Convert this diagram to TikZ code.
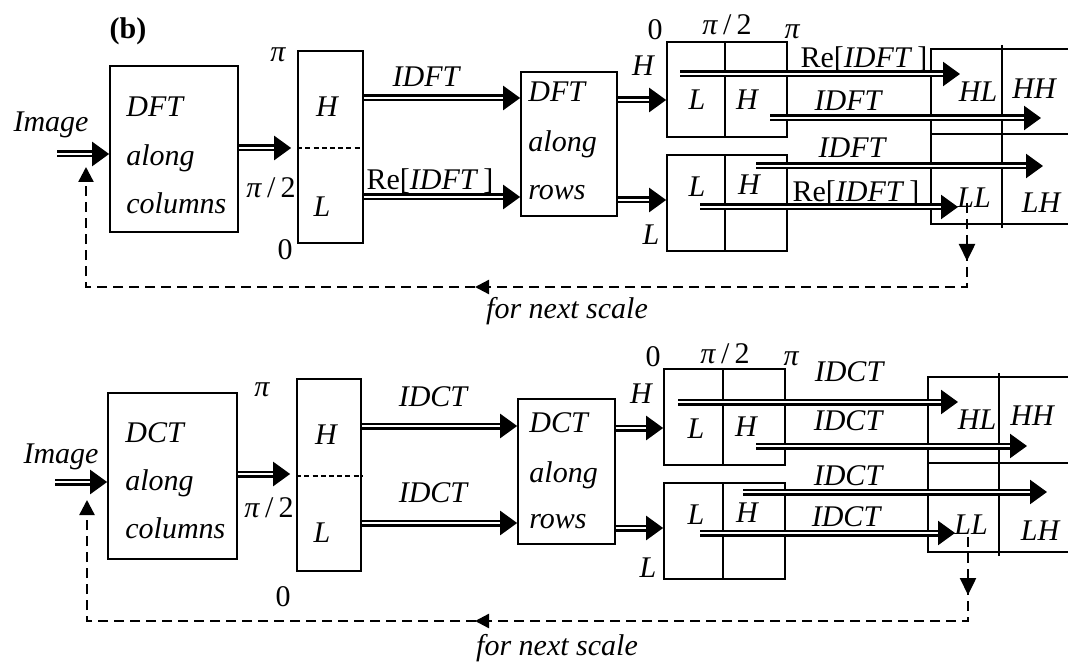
\documentclass[tikz,border=0pt]{standalone}
\usepackage{fontspec}
\setmainfont{Liberation Serif}
\usetikzlibrary{arrows.meta,fit,decorations.markings}
\tikzset{
  box/.style={draw, line width=0.85pt, inner sep=0pt},
  boxline/.style={line width=0.85pt},
  hdiv/.style={line width=0.55pt, dash pattern=on 2.5pt off 1.6pt},
  dar/.style={double, double distance=1.1pt, line width=1.2pt, -{Triangle[length=8.5pt,width=12pt]}},
  fb/.style={line width=1.2pt, dash pattern=on 5pt off 3pt},
  fbtip/.style={-{Triangle[length=7.5pt,width=7.5pt]}},
  lab/.style={font=\fontsize{15}{18}\selectfont\itshape, inner sep=0pt},
  num/.style={font=\fontsize{15}{18}\selectfont, inner sep=0pt},
  txt/.style={font=\fontsize{15}{18}\selectfont\itshape, inner sep=0pt, anchor=base west},
}
\newcommand{\pitwo}{\textit{π}\,/\,2}
\newcommand{\reidft}{Re[\textit{IDFT}\,]}
\begin{document}
\begin{tikzpicture}[x=0.5pt,y=-0.5pt]
\useasboundingbox (0,0) rectangle (1068,662);

% ================= TOP PANEL =================
\node[num, font=\fontsize{15}{18}\selectfont\bfseries] (tb) at (128,31) {(b)};
\node[lab] (img1) at (51,125) {Image};
\node[box, fit={(110,66)(238,232)}] (c1) {};
\node[txt] (c1a) at (126,117) {DFT};
\node[txt] (c1b) at (126,166) {along};
\node[txt] (c1c) at (126,214) {columns};

\node[box, fit={(298,51)(363,243)}] (b1) {};
\draw[hdiv] (b1.west |- 0,148) -- (b1.east |- 0,148);
\node[lab] (b1h) at (327,107) {H};
\node[lab] (b1l) at (322,207) {L};
\node[lab] (p1a) at (278,55) {π};
\node[num] (p1b) at (271,188) {\pitwo};
\node[num] (p1c) at (285,250) {0};

\node[box, fit={(521,72)(617,216)}] (r1) {};
\node[txt] (r1a) at (528,102) {DFT};
\node[txt] (r1b) at (528,152) {along};
\node[txt] (r1c) at (528,200) {rows};

\node[lab] (h1) at (643,66) {H};
\node[lab] (l1) at (651,235) {L};
\node[num] (z1) at (655,30) {0};
\node[num] (q1) at (727,25) {\pitwo};
\node[lab] (pp1) at (792,32) {π};

\node[box, fit={(667,42)(787,137)}] (s1) {};
\draw[boxline] (s1.north -| 725,0) -- (s1.south -| 725,0);
\node[lab] (s1l) at (697,100) {L};
\node[lab] (s1h) at (747,100) {H};
\node[box, fit={(667,155)(787,251)}] (t1) {};
\draw[boxline] (t1.north -| 725,0) -- (t1.south -| 725,0);
\node[lab] (t1l) at (697,187) {L};
\node[lab] (t1h) at (749,185) {H};

% output quadrants (open on the right)
\draw[boxline] (1068,49) -- (931,49) -- (931,224) -- (1068,224);
\draw[boxline] (931,134) -- (1068,134);
\draw[boxline] (1002,45) -- (1002,228);
\node[lab] (hl1) at (978,92) {HL};
\node[lab] (hh1) at (1034,89) {HH};
\node[lab] (ll1) at (974,198) {LL};
\node[lab] (lh1) at (1041,203) {LH};

% labels of arrows
\node[lab] (a1) at (426,77) {IDFT};
\node[num] (a2) at (430,181) {\reidft};
\node[num] (a3) at (864,59) {\reidft};
\node[lab] (a4) at (848,101) {IDFT};
\node[lab] (a5) at (852,148) {IDFT};
\node[num] (a6) at (856,193) {\reidft};

% arrows
\coordinate (i1) at (57,154);
\draw[dar] (i1) -- (c1.west |- i1);
\draw[dar, shorten >=3pt] (c1.east |- 0,148) -- (b1.west |- 0,148);
\draw[dar] (b1.east |- 0,98) -- (r1.west |- 0,98);
\draw[dar] (b1.east |- 0,197) -- (r1.west |- 0,197);
\draw[dar] (r1.east |- 0,100) -- (s1.west |- 0,100);
\draw[dar] (r1.east |- 0,200) -- (t1.west |- 0,200);
\coordinate (u1s) at (680,74);  \coordinate (u1e) at (960,74);
\coordinate (u2s) at (770,118); \coordinate (u2e) at (1041,118);
\coordinate (u3s) at (756,166); \coordinate (u3e) at (1043,166);
\coordinate (u4s) at (700,207); \coordinate (u4e) at (958,207);
\draw[dar] (u1s) -- (u1e);
\draw[dar] (u2s) -- (u2e);
\draw[dar] (u3s) -- (u3e);
\draw[dar] (u4s) -- (u4e);

% feedback
\coordinate (f1a) at (967,203);
\coordinate (f1b) at (86,167);
\draw[fb, fbtip, postaction={decorate}, decoration={markings,
   mark=at position 29pt with {\arrow{Triangle[length=8.5pt,width=8pt]}},
   mark=at position 288pt with {\arrow{Triangle[length=7pt,width=7pt]}}}]
   (f1a) -- (967,287) -- (86,287) -- (f1b);
\node[lab] (n1) at (567,311) {for next scale};

% ================= BOTTOM PANEL =================
\node[lab] (img2) at (61,457) {Image};
\node[box, fit={(108,393)(237,559)}] (c2) {};
\node[txt] (c2a) at (125,442) {DCT};
\node[txt] (c2b) at (125,490) {along};
\node[txt] (c2c) at (125,538) {columns};

\node[box, fit={(297,379)(361,571)}] (b2) {};
\draw[hdiv] (b2.west |- 0,476) -- (b2.east |- 0,476);
\node[lab] (b2h) at (326,435) {H};
\node[lab] (b2l) at (322,533) {L};
\node[lab] (p2a) at (262,390) {π};
\node[num] (p2b) at (269,508) {\pitwo};
\node[num] (p2c) at (283,597) {0};

\node[box, fit={(518,399)(615,544)}] (r2) {};
\node[txt] (r2a) at (529,432) {DCT};
\node[txt] (r2b) at (529,482) {along};
\node[txt] (r2c) at (529,528) {rows};

\node[lab] (h2) at (641,394) {H};
\node[lab] (l2) at (648,568) {L};
\node[num] (z2) at (653,357) {0};
\node[num] (q2) at (725,354) {\pitwo};
\node[lab] (pp2) at (791,359) {π};

\node[box, fit={(664,369)(785,465)}] (s2) {};
\draw[boxline] (s2.north -| 723,0) -- (s2.south -| 723,0);
\node[lab] (s2l) at (696,429) {L};
\node[lab] (s2h) at (746,427) {H};
\node[box, fit={(664,483)(785,579)}] (t2) {};
\draw[boxline] (t2.north -| 723,0) -- (t2.south -| 723,0);
\node[lab] (t2l) at (696,515) {L};
\node[lab] (t2h) at (747,513) {H};

\draw[boxline] (1068,377) -- (928,377) -- (928,552) -- (1068,552);
\draw[boxline] (928,463) -- (1068,463);
\draw[boxline] (999,373) -- (999,556);
\node[lab] (hl2) at (977,420) {HL};
\node[lab] (hh2) at (1032,416) {HH};
\node[lab] (ll2) at (971,525) {LL};
\node[lab] (lh2) at (1040,531) {LH};

\node[lab] (d1) at (433,397) {IDCT};
\node[lab] (d2) at (433,493) {IDCT};
\node[lab] (d3) at (849,372) {IDCT};
\node[lab] (d4) at (848,421) {IDCT};
\node[lab] (d5) at (848,476) {IDCT};
\node[lab] (d6) at (846,517) {IDCT};

\coordinate (i2) at (55,482);
\draw[dar] (i2) -- (c2.west |- i2);
\draw[dar, shorten >=3pt] (c2.east |- 0,474) -- (b2.west |- 0,474);
\draw[dar] (b2.east |- 0,426) -- (r2.west |- 0,426);
\draw[dar] (b2.east |- 0,523) -- (r2.west |- 0,523);
\draw[dar] (r2.east |- 0,428) -- (s2.west |- 0,428);
\draw[dar] (r2.east |- 0,528) -- (t2.west |- 0,528);
\coordinate (v1s) at (678,402); \coordinate (v1e) at (958,402);
\coordinate (v2s) at (756,446); \coordinate (v2e) at (1027,446);
\coordinate (v3s) at (743,492); \coordinate (v3e) at (1047,492);
\coordinate (v4s) at (700,533); \coordinate (v4e) at (955,533);
\draw[dar] (v1s) -- (v1e);
\draw[dar] (v2s) -- (v2e);
\draw[dar] (v3s) -- (v3e);
\draw[dar] (v4s) -- (v4e);

\coordinate (f2a) at (968,537);
\coordinate (f2b) at (87,500);
\draw[fb, fbtip, postaction={decorate}, decoration={markings,
   mark=at position 29pt with {\arrow{Triangle[length=8.5pt,width=8pt]}},
   mark=at position 288.5pt with {\arrow{Triangle[length=7pt,width=7pt]}}}]
   (f2a) -- (968,621) -- (87,621) -- (f2b);
\node[lab] (n2) at (557,648) {for next scale};
\end{tikzpicture}
\end{document}
